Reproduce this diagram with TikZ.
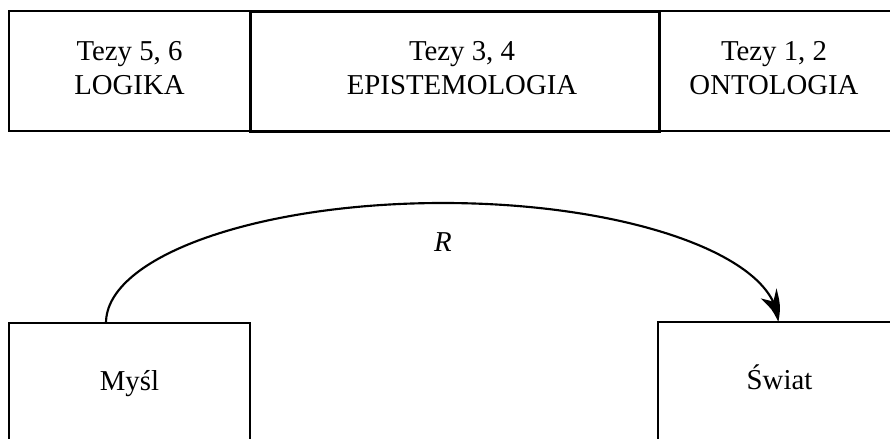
\documentclass[tikz,border=0pt]{standalone}
\usepackage{fontspec}
\setmainfont{Liberation Serif}
\usetikzlibrary{arrows.meta,bending,calc}
\begin{document}
\begin{tikzpicture}[x=0.75pt,y=-0.75pt,
  box/.style={draw, line width=1.5pt, rectangle, inner sep=0pt, outer sep=0pt, anchor=north west},
  thickbox/.style={box, line width=2.25pt},
  txt/.style={inner sep=0pt, align=center, font=\fontsize{21.6}{25.5}\selectfont},
  conn/.style={line width=1.6pt, -{Stealth[length=22pt,width=14pt,inset=6.5pt,bend]}}]
\useasboundingbox (0,0) rectangle (890,439);
\fill[white] (0,0) rectangle (890,439);
\begin{scope}
\clip (0,0) rectangle (890,439);
% top row
\node[box, minimum width=180.75pt, minimum height=90pt] (log) at (9,11) {};
\node[box, minimum width=195pt, minimum height=90pt] (ont) at (659,11) {};
\node[thickbox, minimum width=306.75pt, minimum height=90pt] (epi) at (250,11) {};
\node[txt] (logt) at ($(log.center)+(0,-3.3)$) {Tezy 5, 6\\LOGIKA};
\node[txt] (epit) at ($(epi.center)+(7.5,-3.3)$) {Tezy 3, 4\\EPISTEMOLOGIA};
\node[txt] (ontt) at ($(ont.north west)+(115,56.7)$) {Tezy 1, 2\\ONTOLOGIA};
% bottom row
\node[box, minimum width=180.75pt, minimum height=105pt] (mysl) at (9,323) {};
\node[box, minimum width=195pt, minimum height=105pt] (swiat) at (658,322) {};
\node[txt, anchor=base] (myslt) at (129.5,390) {Myśl};
\node[txt, anchor=base] (swiatt) at (779.5,389) {Świat};
% connector
\coordinate (s) at ($(mysl.north west)+(97,0)$);
\coordinate (e) at ($(swiat.north west)+(120,0)$);
\coordinate (top) at (443,203);
\draw[conn] (s) .. controls +(0,-66.3) and +(-186.1,0) .. (top)
               .. controls +(185,0) and +(0,-65.7) .. (e);
\node[txt, anchor=base, font=\fontsize{21.6}{25.5}\selectfont\itshape] (r) at (443,251) {R};
\end{scope}
\end{tikzpicture}
\end{document}
